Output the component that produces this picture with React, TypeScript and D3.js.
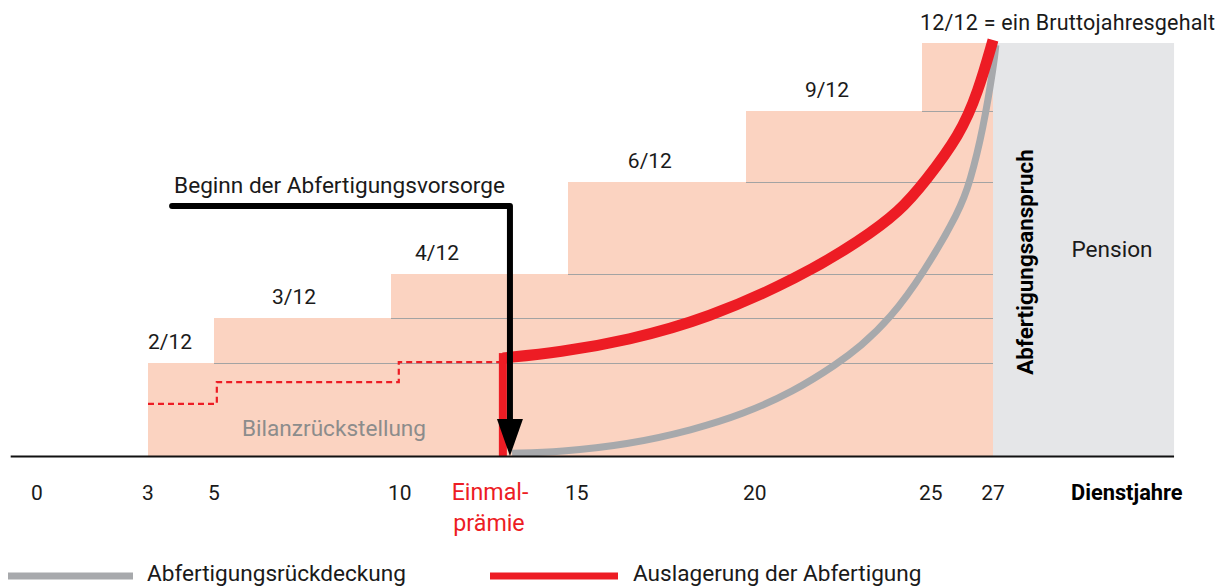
import React from "react";
import * as d3 from "d3";

// ---- Data ----
const stepStarts = [3, 5, 10, 15, 20, 25];
const stepLevels = [2, 3, 4, 6, 9, 12];
const stepEnd = 27;
const stepLabels = ["2/12", "3/12", "4/12", "6/12", "9/12"];
const stepLabelYears = [3.67, 7.26, 11.3, 17.3, 22.3];

const tickValues = [0, 3, 5, 10, 15, 20, 25, 27];
const tickLabels = ["0", "3", "5", "10", "15", "20", "25", "27"];

const redYears = [13.16, 14.77, 16.66, 18.93, 21.53, 23.24, 24.38, 25.08, 26.07, 26.58, 27.0];
const redValues = [2.11, 2.24, 2.5, 2.99, 3.93, 4.72, 5.37, 6.0, 7.99, 9.84, 12.13];

const grayYears = [13.42, 14.77, 16.66, 18.51, 19.92, 21.34, 22.59, 23.24, 24.09, 25.03, 26.07, 26.35, 26.72, 27.03, 27.08];
const grayValues = [0.06, 0.09, 0.24, 0.56, 0.9, 1.38, 1.98, 2.36, 2.98, 4.0, 5.39, 6.0, 8.2, 11.12, 11.91];

const dashedYears = [3, 5.08, 10.22, 13.1];
const dashedValues = [1.12, 1.59, 2.02, 2.02];

const einmalYear = 13.16;
const einmalValue = 2.22;
const arrowYears = [3.73, 13.36];
const arrowValue = 5.48;
const pensionEndYear = 32.1;
const axisStartYear = -0.85;

const COLORS = {
  step: "#fbd3c1",
  stepLine: "#a3a3a3",
  pension: "#e5e6e8",
  red: "#ed1c24",
  gray: "#a7a9ac",
  text: "#1a1a1a",
  textGray: "#8c8c8c",
};

const FONT = "Roboto, 'Open Sans', sans-serif";

export default function App() {
  const W = 1224;
  const H = 588;

  const x = d3
    .scaleLinear()
    .domain([0, 3, 5, 10, 15, 20, 25, 27])
    .range([41, 148, 214, 391, 568, 746, 922, 993]);
  const y = d3
    .scaleLinear()
    .domain([0, 2, 3, 4, 6, 9, 12])
    .range([456, 363, 318, 274, 182, 111, 43]);

  const redPts = redYears.map((yr, i) => [yr, redValues[i]] as [number, number]);
  const grayPts = grayYears.map((yr, i) => [yr, grayValues[i]] as [number, number]);
  const dashPts = dashedYears.map((yr, i) => [yr, dashedValues[i]] as [number, number]);

  const smooth = d3
    .line<[number, number]>()
    .x((d) => x(d[0]))
    .y((d) => y(d[1]))
    .curve(d3.curveBasis);
  const stepLine = d3
    .line<[number, number]>()
    .x((d) => x(d[0]))
    .y((d) => y(d[1]))
    .curve(d3.curveStepAfter);

  const ax = x(arrowYears[1]);
  const ay = y(arrowValue);
  const base = y(0);
  const headH = 37;
  const headW = 26;

  const fsNum = 21;
  const fsWord = 22.6;

  return (
    <svg
      width={W}
      height={H}
      viewBox={`0 0 ${W} ${H}`}
      style={{ position: "absolute", left: 0, top: 0, background: "#fff" }}
      fontFamily={FONT}
    >
      {/* Pension area */}
      <rect
        x={x(stepEnd)}
        y={y(12)}
        width={x(pensionEndYear) - x(stepEnd)}
        height={base - y(12)}
        fill={COLORS.pension}
      />
      {/* Steps */}
      {stepStarts.map((s, i) => (
        <rect
          key={"s" + i}
          x={x(s)}
          y={y(stepLevels[i])}
          width={x(stepEnd) - x(s)}
          height={base - y(stepLevels[i])}
          fill={COLORS.step}
        />
      ))}
      {/* Continuation lines */}
      {stepLevels.slice(0, -1).map((lv, i) => (
        <line
          key={"l" + i}
          x1={x(stepStarts[i + 1])}
          x2={x(stepEnd)}
          y1={y(lv) + 0.5}
          y2={y(lv) + 0.5}
          stroke={COLORS.stepLine}
          strokeWidth={1.2}
        />
      ))}
      {/* Step labels */}
      {stepLabels.map((t, i) => (
        <text
          key={"t" + i}
          x={x(stepLabelYears[i])}
          y={y(stepLevels[i]) - 14}
          textAnchor="middle"
          fontSize={fsNum}
          fill={COLORS.text}
        >
          {t}
        </text>
      ))}
      <text x={920} y={30} fontSize={21.5} fill={COLORS.text} textLength={295} lengthAdjust="spacing">
        12/12 = ein Bruttojahresgehalt
      </text>

      {/* Bilanzrückstellung */}
      <text x={334} y={436} textAnchor="middle" fontSize={fsWord} fill={COLORS.textGray}>
        Bilanzrückstellung
      </text>

      {/* Dashed red */}
      <path
        d={stepLine(dashPts) || ""}
        fill="none"
        stroke={COLORS.red}
        strokeWidth={2.2}
        strokeDasharray="6 4"
      />

      {/* Gray curve */}
      <path d={smooth(grayPts) || ""} fill="none" stroke={COLORS.gray} strokeWidth={7} />

      {/* Red vertical (Einmalprämie) */}
      <rect
        x={x(einmalYear) - 4}
        y={y(einmalValue)}
        width={8}
        height={base - y(einmalValue)}
        fill={COLORS.red}
      />
      {/* Red curve */}
      <path d={smooth(redPts) || ""} fill="none" stroke={COLORS.red} strokeWidth={11} />

      {/* Black arrow */}
      <path
        d={`M${x(arrowYears[0])},${ay} L${ax},${ay} L${ax},${base - headH + 2}`}
        fill="none"
        stroke="#000"
        strokeWidth={6}
        strokeLinecap="round"
        strokeLinejoin="round"
      />
      <path
        d={`M${ax - headW / 2},${base - headH} L${ax + headW / 2},${base - headH} L${ax},${base} Z`}
        fill="#000"
      />
      <text x={x(arrowYears[0]) + 2} y={193} fontSize={fsWord} fill={COLORS.text}>
        Beginn der Abfertigungsvorsorge
      </text>

      {/* Baseline axis */}
      <line
        x1={x(axisStartYear)}
        x2={x(pensionEndYear)}
        y1={base + 0.5}
        y2={base + 0.5}
        stroke="#111"
        strokeWidth={2}
      />

      {/* Tick labels */}
      {tickValues.map((v, i) => {
        const two = v >= 10 && v < 27;
        return (
          <text
            key={"k" + i}
            x={two ? x(v) - 3 : x(v) + (v === 0 ? -4 : 0)}
            y={500}
            textAnchor={two ? "start" : "middle"}
            fontSize={fsNum}
            fill={COLORS.text}
          >
            {tickLabels[i]}
          </text>
        );
      })}
      <text x={490} y={500} textAnchor="middle" fontSize={23.2} fill={COLORS.red}>
        Einmal-
      </text>
      <text x={489} y={531} textAnchor="middle" fontSize={23.2} fill={COLORS.red}>
        prämie
      </text>
      <text x={1071} y={500} fontSize={21.8} fontWeight="bold" fill="#000">
        Dienstjahre
      </text>

      {/* Pension labels */}
      <text x={1112} y={257} textAnchor="middle" fontSize={fsWord} fill={COLORS.text}>
        Pension
      </text>
      <text
        transform={`translate(1033,262) rotate(-90)`}
        textAnchor="middle"
        fontSize={22.4}
        fontWeight="bold"
        fill="#000"
      >
        Abfertigungsanspruch
      </text>

      {/* Legend */}
      <line x1={8} x2={133} y1={576} y2={576} stroke={COLORS.gray} strokeWidth={7} />
      <text x={147} y={581} fontSize={fsWord} fill={COLORS.text}>
        Abfertigungsrückdeckung
      </text>
      <line x1={490} x2={618} y1={576} y2={576} stroke={COLORS.red} strokeWidth={7} />
      <text x={633} y={581} fontSize={fsWord} fill={COLORS.text}>
        Auslagerung der Abfertigung
      </text>
    </svg>
  );
}
